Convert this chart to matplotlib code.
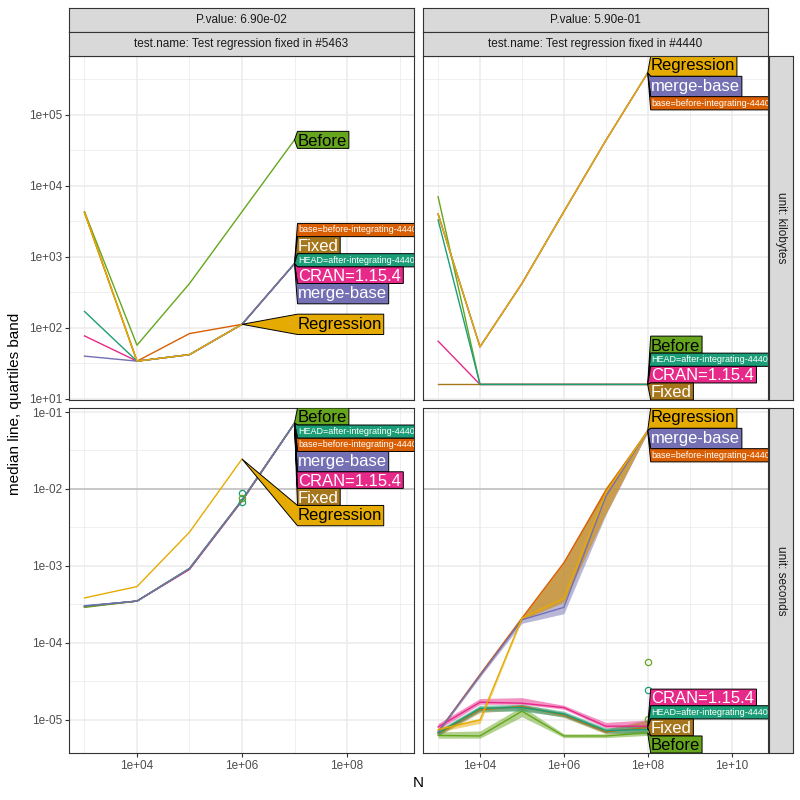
import numpy as np
import matplotlib.pyplot as plt
from matplotlib.patches import Polygon
from matplotlib.transforms import IdentityTransform
from matplotlib.textpath import TextPath
from matplotlib.font_manager import FontProperties
from matplotlib.ticker import FixedLocator, FuncFormatter, NullFormatter

plt.rcParams['font.family'] = ['Liberation Sans', 'DejaVu Sans']

BEFORE = 'Before'
HEAD   = 'HEAD=after-integrating-4440'
BASE   = 'base=before-integrating-4440'
MB     = 'merge-base'
CRAN   = 'CRAN=1.15.4'
FIXED  = 'Fixed'
REG    = 'Regression'

# drawing order, last one ends up on top
expr_order  = [BASE, BEFORE, CRAN, FIXED, HEAD, MB, REG]
expr_colors = {BASE: '#D95F02', BEFORE: '#66A61E', CRAN: '#E7298A', FIXED: '#A6761D',
               HEAD: '#1B9E77', MB: '#7570B3', REG: '#E6AB02'}
dark_text   = [BEFORE, REG]
small_label = [HEAD, BASE]

nan = np.nan
N_5463 = [1e3, 1e4, 1e5, 1e6, 1e7]
N_4440 = [1e3, 1e4, 1e5, 1e6, 1e7, 1e8]

# kilobytes, test fixed in #5463
kb_5463 = {
    BEFORE: [4300, 57, 420, 4300, 44000],
    HEAD:   [170, 34, 42, 112, 800],
    BASE:   [4200, 34, 83, 112, 800],
    MB:     [40, 34, 42, 112, 800],
    CRAN:   [77, 34, 42, 112, 800],
    FIXED:  [4200, 34, 42, 112, 800],
    REG:    [4200, 34, 42, 112, nan],
}
# seconds, test fixed in #5463
sec_5463 = {
    BEFORE: [2.9e-4, 3.5e-4, 9.2e-4, 7.0e-3, 0.072],
    HEAD:   [3.0e-4, 3.5e-4, 9.3e-4, 7.2e-3, 0.071],
    BASE:   [3.0e-4, 3.5e-4, 9.3e-4, 7.2e-3, 0.072],
    MB:     [3.05e-4, 3.5e-4, 9.2e-4, 7.1e-3, 0.071],
    CRAN:   [3.0e-4, 3.5e-4, 9.0e-4, 7.0e-3, 0.071],
    FIXED:  [2.95e-4, 3.5e-4, 9.2e-4, 7.1e-3, 0.071],
    REG:    [3.85e-4, 5.4e-4, 2.75e-3, 2.45e-2, nan],
}
pts_5463 = {HEAD: [(1e6, 8.9e-3), (1e6, 6.8e-3)], BEFORE: [(1e6, 7.6e-3)]}

# kilobytes, test fixed in #4440
kb_4440 = {
    BEFORE: [7000, 16, 16, 16, 16, 16],
    HEAD:   [3300, 16, 16, 16, 16, 16],
    BASE:   [4000, 54, 420, 4300, 43000, 385000],
    MB:     [4000, 54, 420, 4300, 43000, 385000],
    CRAN:   [65, 16, 16, 16, 16, 16],
    FIXED:  [16, 16, 16, 16, 16, 16],
    REG:    [4000, 54, 420, 4300, 43000, 385000],
}
# seconds, test fixed in #4440 (median, first and third quartile)
sec_4440 = {
    BEFORE: [6.3e-6, 6.2e-6, 1.3e-5, 6.2e-6, 6.2e-6, 6.8e-6],
    HEAD:   [6.8e-6, 1.42e-5, 1.45e-5, 1.2e-5, 7.3e-6, 7.5e-6],
    BASE:   [7.0e-6, 3.9e-5, 2.1e-4, 1.1e-3, 9.5e-3, 5.7e-2],
    MB:     [7.0e-6, 3.8e-5, 2.0e-4, 2.9e-4, 8.0e-3, 5.7e-2],
    CRAN:   [8.1e-6, 1.7e-5, 1.65e-5, 1.45e-5, 8.3e-6, 8.3e-6],
    FIXED:  [6.6e-6, 1.35e-5, 1.5e-5, 1.15e-5, 7.0e-6, 8.0e-6],
    REG:    [7.5e-6, 1.0e-5, 2.1e-4, 3.8e-4, 9.0e-3, 5.7e-2],
}
sec_4440_q25 = {
    BEFORE: [5.8e-6, 5.8e-6, 1.1e-5, 5.9e-6, 5.9e-6, 6.3e-6],
    HEAD:   [6.3e-6, 1.3e-5, 1.3e-5, 1.1e-5, 6.8e-6, 6.6e-6],
    BASE:   [6.8e-6, 3.7e-5, 2.0e-4, 3.4e-4, 4.8e-3, 5.5e-2],
    MB:     [6.7e-6, 3.6e-5, 1.8e-4, 2.4e-4, 4.6e-3, 5.4e-2],
    CRAN:   [7.5e-6, 1.6e-5, 1.6e-5, 1.38e-5, 7.9e-6, 7.9e-6],
    FIXED:  [6.2e-6, 1.25e-5, 1.35e-5, 1.08e-5, 6.6e-6, 7.0e-6],
    REG:    [7.0e-6, 9.0e-6, 2.0e-4, 3.4e-4, 4.8e-3, 5.5e-2],
}
sec_4440_q75 = {
    BEFORE: [7.0e-6, 7.2e-6, 1.5e-5, 6.6e-6, 6.6e-6, 7.4e-6],
    HEAD:   [7.4e-6, 1.55e-5, 1.6e-5, 1.3e-5, 7.9e-6, 8.6e-6],
    BASE:   [7.4e-6, 4.1e-5, 2.2e-4, 1.15e-3, 1.05e-2, 5.9e-2],
    MB:     [7.3e-6, 4.0e-5, 2.1e-4, 1.1e-3, 1.02e-2, 5.8e-2],
    CRAN:   [9.0e-6, 1.9e-5, 1.95e-5, 1.55e-5, 9.3e-6, 1.0e-5],
    FIXED:  [7.2e-6, 1.45e-5, 1.6e-5, 1.25e-5, 7.6e-6, 1.0e-5],
    REG:    [8.0e-6, 1.05e-5, 2.2e-4, 1.1e-3, 1.05e-2, 5.8e-2],
}
pts_4440 = {BEFORE: [(1e8, 5.7e-5), (1e8, 1.02e-5)], HEAD: [(1e8, 2.45e-5)]}

# label stacking order, top to bottom
lab_kb_5463  = [BEFORE, BASE, FIXED, HEAD, CRAN, MB, REG]
lab_sec_5463 = [BEFORE, HEAD, BASE, MB, CRAN, FIXED, REG]
lab_kb_4440  = [REG, MB, BASE, BEFORE, HEAD, CRAN, FIXED]
lab_sec_4440 = [REG, MB, BASE, CRAN, HEAD, FIXED, BEFORE]

pvalues    = ['6.90e-02', '5.90e-01']
test_names = ['Test regression fixed in #5463', 'Test regression fixed in #4440']
units      = ['kilobytes', 'seconds']

W, H = 800, 800
fig = plt.figure(figsize=(8, 8), dpi=100)
col_x  = [69, 423]
pw     = 345
row_y  = [(56, 400), (408, 753)]
xlims  = [(2.705, 9.276), (2.640, 10.870)]
ylims  = [(0.985, 5.823), (-5.429, -0.948)]

fp = FontProperties(family='Liberation Sans')
padx, pady = 1.5, 2.4


def stack(anchors, heights, lo, hi):
    groups = [[i] for i in range(len(anchors))]
    while True:
        tops = []
        for g in groups:
            hh = sum(heights[i] for i in g)
            top = np.mean([anchors[i] for i in g]) + hh / 2
            top = max(min(top, hi), lo + hh)
            tops.append(top)
        merged = False
        for k in range(len(groups) - 1):
            if tops[k] - sum(heights[i] for i in groups[k]) < tops[k + 1]:
                groups[k] = groups[k] + groups[k + 1]
                del groups[k + 1]
                merged = True
                break
        if not merged:
            break
    out = {}
    for g, top in zip(groups, tops):
        y = top
        for i in g:
            out[i] = y - heights[i]
            y -= heights[i]
    return out


def draw_labels(ax, xs, med, order):
    ident = IdentityTransform()
    apex = {}
    for name in order:
        v = np.array(med[name], dtype=float)
        k = np.where(~np.isnan(v))[0][-1]
        apex[name] = ax.transData.transform((xs[k], v[k]))
    left = max(p[0] for p in apex.values()) + 3
    bb = ax.get_window_extent()
    exts, heights = [], []
    for name in order:
        fs = 6.5 if name in small_label else 12
        ext = TextPath((0, 0), name, size=fs * 100 / 72, prop=fp).get_extents()
        exts.append((fs, ext))
        heights.append(ext.y1 - ext.y0 + 2 * pady)
    bottoms = stack([apex[n][1] for n in order], heights, bb.y0, bb.y1)
    for i, name in enumerate(order):
        fs, ext = exts[i]
        b, t = bottoms[i], bottoms[i] + heights[i]
        r = left + ext.x1 + 2 * padx
        poly = Polygon([apex[name], (left, t), (r, t), (r, b), (left, b)], closed=True,
                       facecolor=expr_colors[name], edgecolor='black', lw=0.7,
                       transform=ident, zorder=5)
        ax.add_patch(poly)
        ax.text(left + padx - ext.x0, b + pady - ext.y0, name, transform=ident,
                fontsize=fs, color='black' if name in dark_text else 'white',
                ha='left', va='baseline', zorder=6, clip_on=True)


panels = [
    (0, 0, N_5463, kb_5463, None, None, None, lab_kb_5463),
    (1, 0, N_5463, sec_5463, None, None, pts_5463, lab_sec_5463),
    (0, 1, N_4440, kb_4440, None, None, None, lab_kb_4440),
    (1, 1, N_4440, sec_4440, sec_4440_q25, sec_4440_q75, pts_4440, lab_sec_4440),
]

axes = {}
for row, col, xs, med, q25, q75, pts, order in panels:
    top, bot = row_y[row]
    ax = fig.add_axes([col_x[col] / W, 1 - bot / H, pw / W, (bot - top) / H])
    axes[(row, col)] = ax
    ax.set_xscale('log')
    ax.set_yscale('log')
    ax.set_xlim(10 ** xlims[col][0], 10 ** xlims[col][1])
    ax.set_ylim(10 ** ylims[row][0], 10 ** ylims[row][1])
    xmaj = [10.0 ** k for k in range(4, 11, 2)]
    xmin = [10.0 ** k for k in range(3, 11, 2)]
    ymaj = [10.0 ** k for k in range(-6, 7)]
    ymin = [10.0 ** (k + 0.5) for k in range(-6, 7)]
    ax.xaxis.set_major_locator(FixedLocator(xmaj))
    ax.xaxis.set_minor_locator(FixedLocator(xmin))
    ax.yaxis.set_major_locator(FixedLocator(ymaj))
    ax.yaxis.set_minor_locator(FixedLocator(ymin))
    fmt = FuncFormatter(lambda v, _: '{:.0e}'.format(v))
    ax.xaxis.set_major_formatter(fmt)
    ax.yaxis.set_major_formatter(fmt)
    ax.xaxis.set_minor_formatter(NullFormatter())
    ax.yaxis.set_minor_formatter(NullFormatter())
    ax.grid(which='major', color='#EBEBEB', lw=1.1)
    ax.grid(which='minor', color='#EBEBEB', lw=0.55)
    ax.set_axisbelow(True)
    for s in ax.spines.values():
        s.set_color('#333333')
        s.set_linewidth(0.8)
    ax.tick_params(which='major', length=2.7, width=0.8, color='#333333',
                   labelsize=8.5, labelcolor='#4D4D4D', pad=2)
    ax.tick_params(which='minor', length=0)
    if col == 1:
        ax.tick_params(axis='y', which='major', length=0, labelleft=False)
    if row == 0:
        ax.tick_params(axis='x', which='major', length=0, labelbottom=False)
    if row == 1:
        ax.axhline(0.01, color='#BEBEBE', lw=1.1, zorder=1)

    if q25 is not None:
        for name in expr_order:
            ax.fill_between(xs, q25[name], q75[name], color=expr_colors[name],
                            alpha=0.5, lw=0, zorder=2)
    for name in expr_order:
        ax.plot(xs, med[name], color=expr_colors[name], lw=1.0, zorder=3)
    if pts is not None:
        for name, pp in pts.items():
            ax.plot([p[0] for p in pp], [p[1] for p in pp], 'o', mfc='none',
                    mec=expr_colors[name], ms=4.5, mew=0.9, zorder=4)
    draw_labels(ax, xs, med, order)

# strips
for col in range(2):
    for j, (txt, y0) in enumerate([('P.value: ' + pvalues[col], 8),
                                   ('test.name: ' + test_names[col], 32)]):
        sa = fig.add_axes([col_x[col] / W, 1 - (y0 + 24) / H, pw / W, 24 / H])
        sa.set_facecolor('#D9D9D9')
        sa.set_xticks([])
        sa.set_yticks([])
        for s in sa.spines.values():
            s.set_color('#333333')
            s.set_linewidth(0.8)
        sa.text(0.5, 0.5, txt, ha='center', va='center', fontsize=8.5,
                color='#1A1A1A', transform=sa.transAxes)
for row in range(2):
    top, bot = row_y[row]
    sa = fig.add_axes([769 / W, 1 - bot / H, 24 / W, (bot - top) / H])
    sa.set_facecolor('#D9D9D9')
    sa.set_xticks([])
    sa.set_yticks([])
    for s in sa.spines.values():
        s.set_color('#333333')
        s.set_linewidth(0.8)
    sa.text(0.5, 0.5, 'unit: ' + units[row], ha='center', va='center', fontsize=8.5,
            color='#1A1A1A', rotation=-90, transform=sa.transAxes)

fig.text(418 / W, 1 - 783 / H, 'N', ha='center', va='center', fontsize=11)
fig.text(15 / W, 1 - 404 / H, 'median line, quartiles band', ha='center', va='center',
         fontsize=11, rotation=90)

fig.savefig('out.png', dpi=100, facecolor='white')
